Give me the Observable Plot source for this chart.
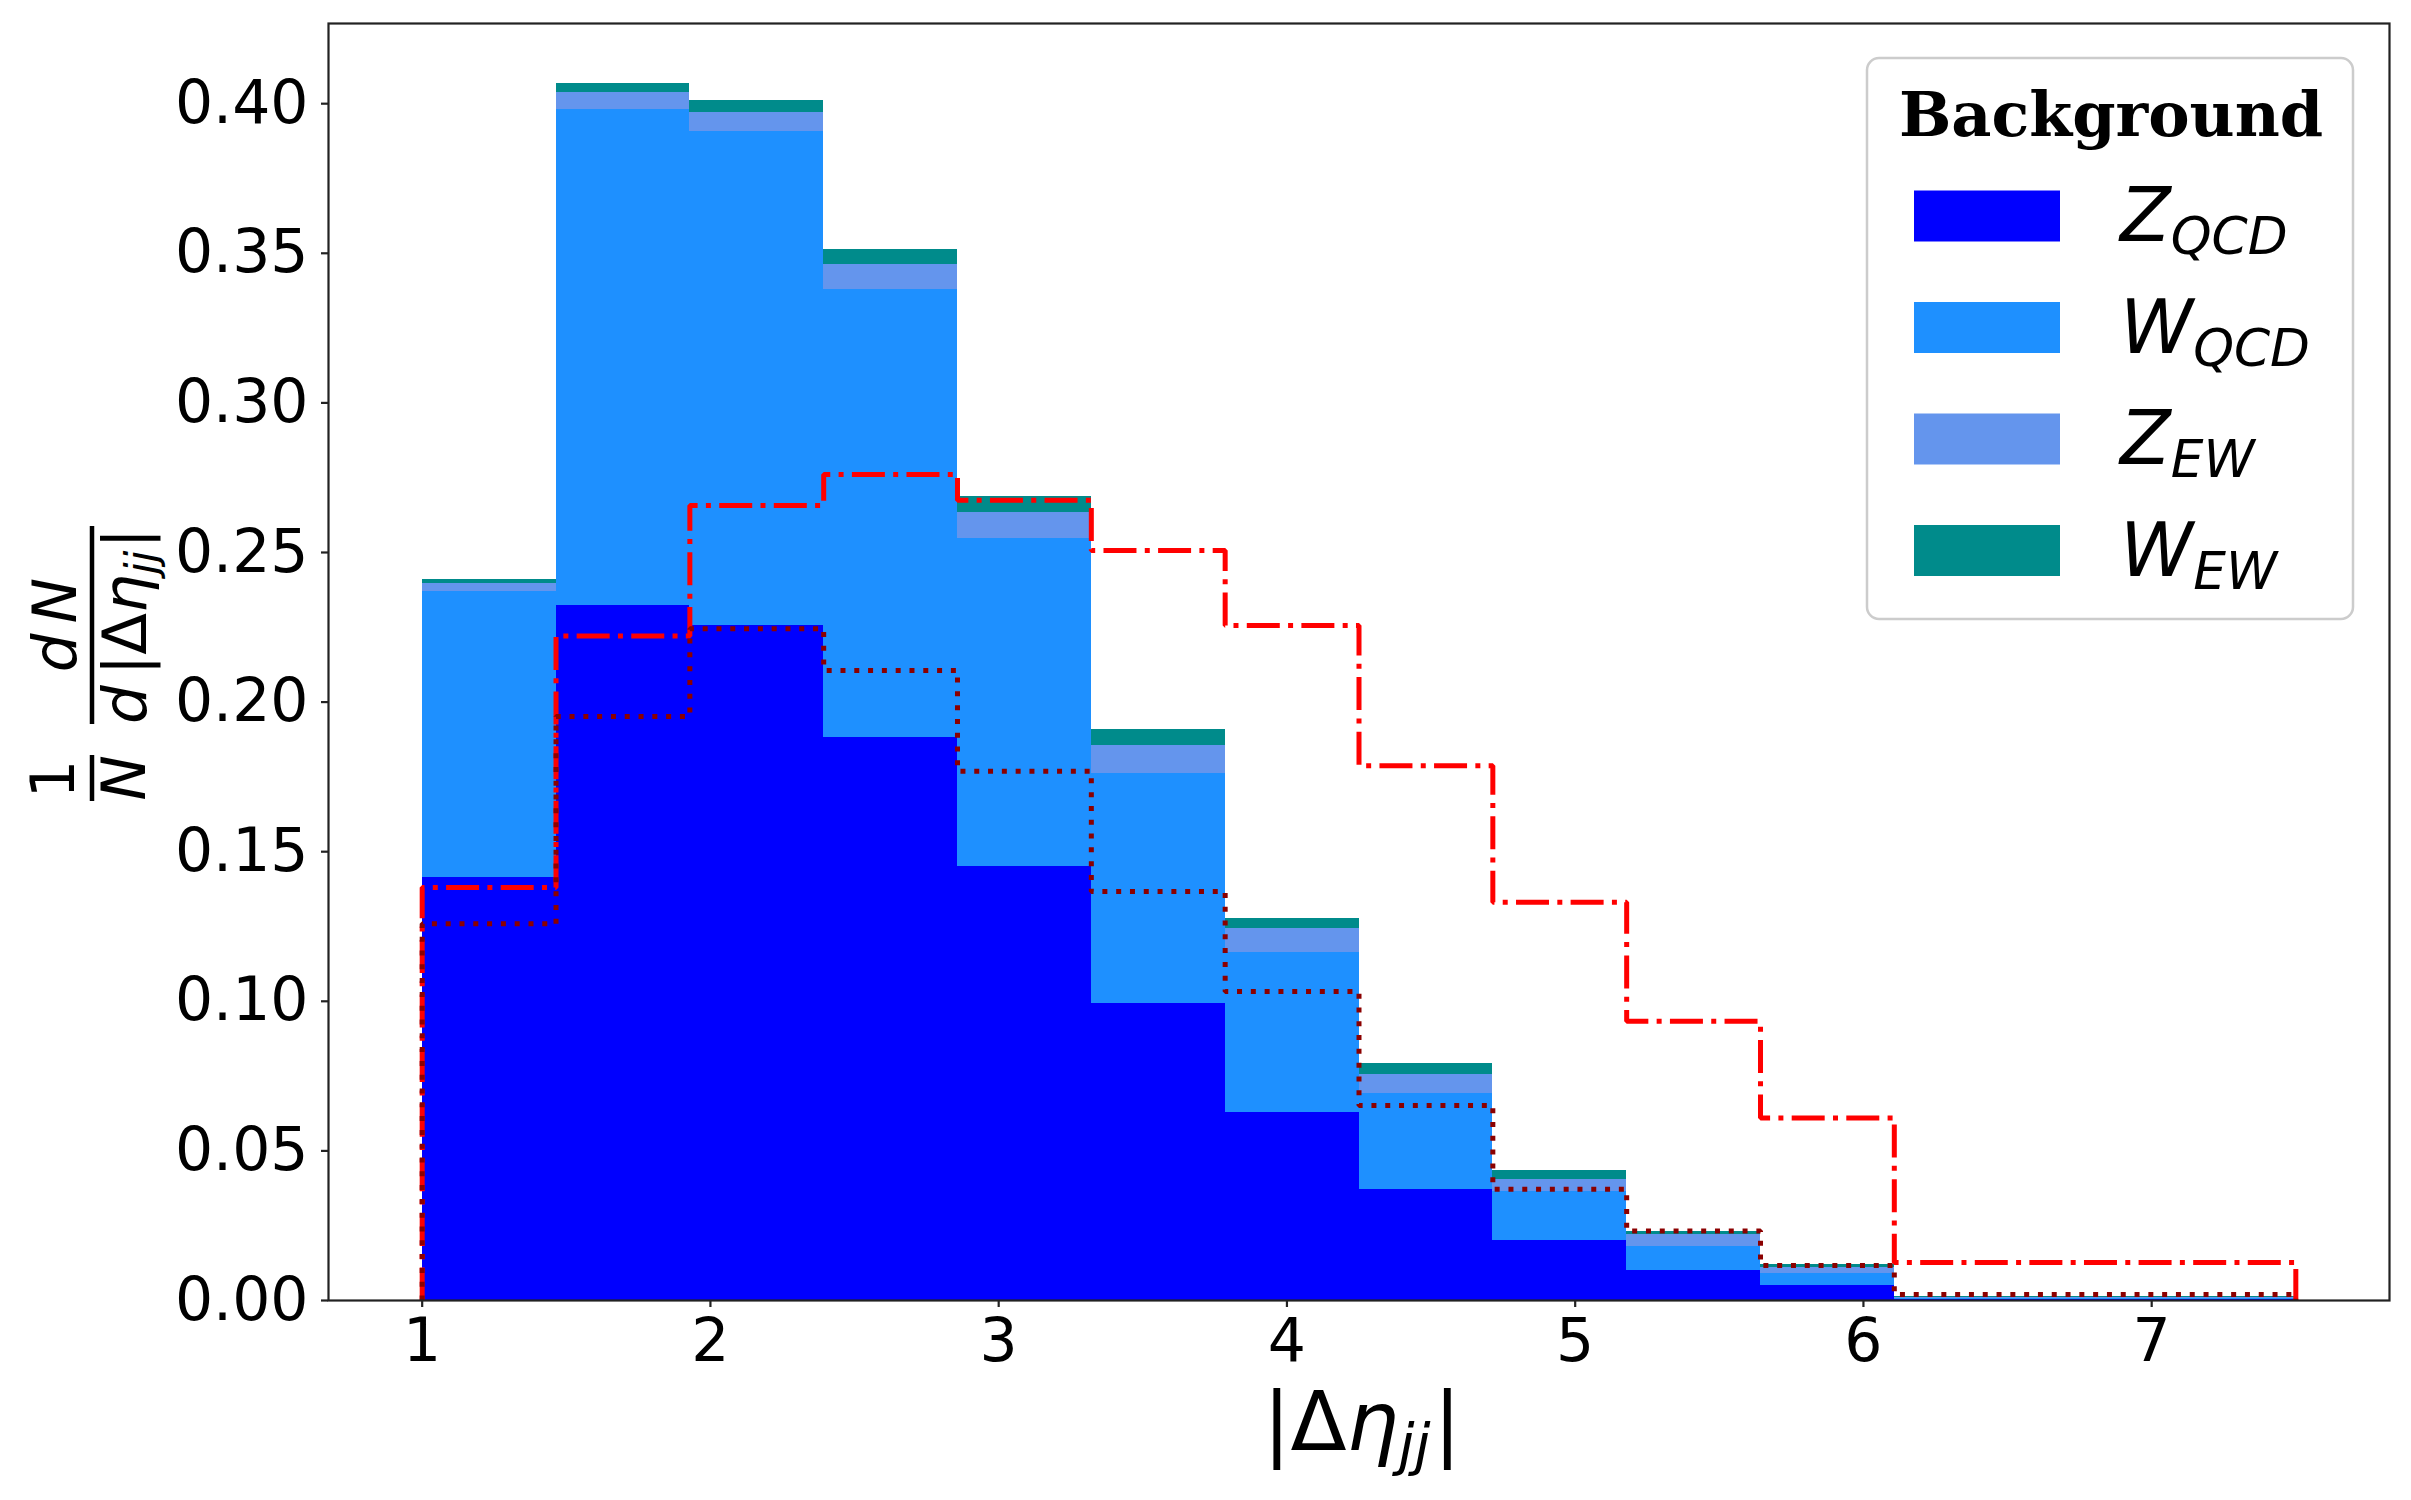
<!DOCTYPE html>
<html><head><meta charset="utf-8">
<script src="https://cdn.jsdelivr.net/npm/d3@7"></script>
<script src="https://cdn.jsdelivr.net/npm/@observablehq/plot@0.6"></script>
<style>html,body{margin:0;padding:0;background:#fff;} #chart svg{display:block;}</style>
</head><body><div id="chart"></div>
<script>
// ---- data ----
const binEdges = [1.0, 1.4643, 1.9286, 2.3929, 2.8571, 3.3214, 3.7857, 4.25, 4.7143, 5.1786, 5.6429, 6.1071, 6.5714, 7.0357, 7.5];
const seriesNames = ["Z_QCD", "W_QCD", "Z_EW", "W_EW"];
const seriesColors = ["#0000ff", "#1e90ff", "#6495ed", "#008b8b"];
const zQCD = [0.1414, 0.2324, 0.2257, 0.1881, 0.1450, 0.0991, 0.0630, 0.0370, 0.0202, 0.0099, 0.0050, 0.0004, 0.0004, 0.0004];
const wQCD = [0.0956, 0.1658, 0.1649, 0.1497, 0.1098, 0.0771, 0.0533, 0.0323, 0.0161, 0.0083, 0.0039, 0.0004, 0.0004, 0.0004];
const zEW  = [0.0027, 0.0057, 0.0066, 0.0083, 0.0086, 0.0092, 0.0080, 0.0063, 0.0043, 0.0040, 0.0020, 0.0002, 0.0002, 0.0002];
const wEW  = [0.0012, 0.0027, 0.0037, 0.0052, 0.0054, 0.0054, 0.0035, 0.0036, 0.0030, 0.0010, 0.0012, 0.0002, 0.0002, 0.0002];
const signalDashDot = [0.1380, 0.2221, 0.2657, 0.2761, 0.2675, 0.2507, 0.2256, 0.1787, 0.1331, 0.0933, 0.0610, 0.0127, 0.0127, 0.0127];
const signalDotted  = [0.1259, 0.1952, 0.2245, 0.2106, 0.1769, 0.1367, 0.1033, 0.0652, 0.0372, 0.0232, 0.0117, 0.0020, 0.0020, 0.0020];
const xTicks = [1, 2, 3, 4, 5, 6, 7];
const yTicks = [0, 0.05, 0.10, 0.15, 0.20, 0.25, 0.30, 0.35, 0.40];
const legendTitle = "Background";
const legendLabels = [["Z", "QCD"], ["W", "QCD"], ["Z", "EW"], ["W", "EW"]];

// ---- tables ----
const seriesArrays = [zQCD, wQCD, zEW, wEW];
const rows = [];
binEdges.slice(0, -1).forEach((x1, i) => {
  const x2 = binEdges[i + 1];
  seriesArrays.forEach((arr, k) => rows.push({x1, x2, series: seriesNames[k], value: arr[i]}));
});
function stepPoints(vals) {
  const pts = [{x: binEdges[0], y: 0}];
  vals.forEach((v, i) => { pts.push({x: binEdges[i], y: v}); pts.push({x: binEdges[i + 1], y: v}); });
  pts.push({x: binEdges[binEdges.length - 1], y: 0});
  return pts;
}

const W = 2411, H = 1500;
const FONT = "DejaVu Sans";
const plot = Plot.plot({
  width: W, height: H,
  marginLeft: 328, marginRight: 22, marginTop: 23, marginBottom: 200,
  style: {fontFamily: FONT, fontSize: "60px", background: "#fff", color: "#000", overflow: "visible"},
  x: {domain: [0.675, 7.825]},
  y: {domain: [0, 0.4268]},
  color: {domain: seriesNames, range: seriesColors},
  marks: [
    Plot.rectY(rows, {x1: "x1", x2: "x2", y: "value", fill: "series", shapeRendering: "crispEdges"}),
    Plot.line(stepPoints(signalDashDot), {x: "x", y: "y", stroke: "#ff0000", strokeWidth: 5, strokeDasharray: "33,8.3,5,8.3", strokeLinejoin: "miter", strokeLinecap: "butt"}),
    Plot.line(stepPoints(signalDotted), {x: "x", y: "y", stroke: "#8b0000", strokeWidth: 5, strokeDasharray: "5,8.8", strokeLinejoin: "miter", strokeLinecap: "butt"}),
    Plot.frame({stroke: "#222", strokeWidth: 2.2}),
    Plot.axisX({ticks: xTicks, tickFormat: d => String(d), tickSize: 7, tickPadding: 11, strokeWidth: 2.2, stroke: "#222", label: null}),
    Plot.axisY({ticks: yTicks, tickFormat: d3.format(".2f"), tickSize: 7, tickPadding: 13, strokeWidth: 2.2, stroke: "#222", label: null})
  ]
});
document.getElementById("chart").appendChild(plot);

const svg = d3.select(plot);

// helper for math-like text
function mathText(g, x, y, size, segs, anchor) {
  const t = g.append("text").attr("x", x).attr("y", y)
    .attr("font-family", FONT).attr("font-size", size).attr("fill", "#000")
    .attr("text-anchor", anchor || "middle");
  let shifted = 0;
  segs.forEach(s => {
    const sp = t.append("tspan").text(s.t);
    if (s.italic) sp.attr("font-style", "italic");
    const want = s.sub ? Math.round(size * 0.17) : 0;
    if (want !== shifted) { sp.attr("dy", want - shifted); shifted = want; }
    if (s.sub) sp.attr("font-size", size * 0.7);
    if (s.dx) sp.attr("dx", s.dx);
  });
  return t;
}

// x label
mathText(svg.append("g"), 1362, 1450, 82, [
  {t: "|Δ"}, {t: "η", italic: true}, {t: "jj", italic: true, sub: true}, {t: "|", dx: 3}
]);

// y label (rotated)
const yl = svg.append("g").attr("transform", "translate(92,0) rotate(-90)");
mathText(yl, -779, -18, 61, [{t: "1"}]);
yl.append("line").attr("x1", -801).attr("x2", -755).attr("y1", 0).attr("y2", 0).attr("stroke", "#000").attr("stroke-width", 4.5);
mathText(yl, -778, 53, 61, [{t: "N", italic: true}]);
yl.append("line").attr("x1", -724).attr("x2", -526).attr("y1", 0).attr("y2", 0).attr("stroke", "#000").attr("stroke-width", 4.5);
mathText(yl, -625, -16, 61, [{t: "d", italic: true}, {t: "N", italic: true, dx: 10}]);
mathText(yl, -626, 54, 61, [{t: "d", italic: true}, {t: "|Δ", dx: 10}, {t: "η", italic: true}, {t: "jj", italic: true, sub: true}, {t: "|", dx: 2}]);

// legend
const lg = svg.append("g");
lg.append("rect").attr("x", 1867).attr("y", 58).attr("width", 486).attr("height", 561).attr("rx", 12)
  .attr("fill", "#fff").attr("fill-opacity", 0.8).attr("stroke", "#cccccc").attr("stroke-width", 2.5);
lg.append("text").attr("x", 2111).attr("y", 136).attr("text-anchor", "middle")
  .attr("font-family", "DejaVu Serif").attr("font-weight", "bold").attr("font-size", 62).attr("fill", "#000")
  .text(legendTitle);
legendLabels.forEach((lab, i) => {
  const cy = 216 + i * 111.5;
  lg.append("rect").attr("x", 1914).attr("y", cy - 25.5).attr("width", 146).attr("height", 51).attr("fill", seriesColors[i]);
  mathText(lg, 2120, cy + 25, 74, [{t: lab[0], italic: true}, {t: lab[1], italic: true, sub: true}], "start");
});
</script>
</body></html>
